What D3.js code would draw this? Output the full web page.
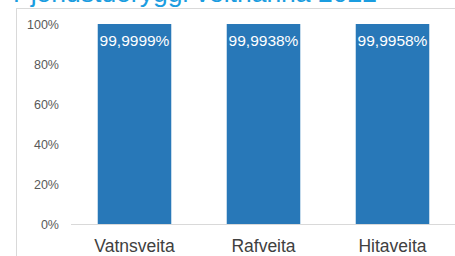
<!DOCTYPE html>
<html>
<head>
<meta charset="utf-8">
<style>
  body { margin: 0; background: #fff; }
  text { font-family: "Liberation Sans", Arial, sans-serif; }
</style>
</head>
<body>
<script src="https://d3js.org/d3.v7.min.js"></script>
<script>
  var categories = ["Vatnsveita", "Rafveita", "Hitaveita"];
  var values = [99.9999, 99.9938, 99.9958];
  var valueLabels = ["99,9999%", "99,9938%", "99,9958%"];
  var yTicks = [0, 20, 40, 60, 80, 100];
  var title = "Þjónustuöryggi veitnanna 2022";

  var width = 455, height = 256;
  var svg = d3.select("body").append("svg")
      .attr("width", width)
      .attr("height", height);

  // title, mostly cut off at the top
  svg.append("text")
      .attr("x", 13)
      .attr("y", 2)
      .attr("fill", "#1b9de0")
      .attr("font-size", 26.5)
      .text(title);

  // chart frame
  svg.append("rect")
      .attr("x", 16.5).attr("y", 8.5)
      .attr("width", 460).attr("height", 270)
      .attr("fill", "none")
      .attr("stroke", "#d9d9d9");

  var x = d3.scaleBand().domain(categories).range([70, 457])
      .paddingInner(0.43).paddingOuter(0.215);
  var y = d3.scaleLinear().domain([0, 100]).range([224, 24]);

  // y axis labels (no line, no ticks)
  svg.append("g")
      .attr("transform", "translate(59,0)")
      .call(d3.axisLeft(y).tickValues(yTicks).tickSize(0).tickPadding(0).tickFormat(d => d + "%"))
      .call(g => g.select(".domain").remove())
      .selectAll("text")
      .attr("fill", "#595959")
      .attr("font-size", 12.5)
      .style("font-family", "Liberation Sans, Arial, sans-serif");

  // bars
  svg.append("g").selectAll("rect")
      .data(values)
      .join("rect")
      .attr("x", (d, i) => x(categories[i]))
      .attr("y", d => y(d))
      .attr("width", x.bandwidth())
      .attr("height", d => y(0) - y(d))
      .attr("fill", "#2878b8");

  // baseline
  svg.append("line")
      .attr("x1", 71).attr("x2", 455)
      .attr("y1", y(0) + 0.5).attr("y2", y(0) + 0.5)
      .attr("stroke", "#d9d9d9");

  // value labels
  svg.append("g").selectAll("text")
      .data(values)
      .join("text")
      .attr("x", (d, i) => x(categories[i]) + x.bandwidth() / 2)
      .attr("y", d => y(d) + 22)
      .attr("text-anchor", "middle")
      .attr("fill", "#ffffff")
      .attr("font-size", 15.5)
      .text((d, i) => valueLabels[i]);

  // category labels
  svg.append("g")
      .attr("transform", "translate(0," + y(0) + ")")
      .call(d3.axisBottom(x).tickSize(0).tickPadding(0))
      .call(g => g.select(".domain").remove())
      .selectAll("text")
      .attr("dy", 0)
      .attr("y", 28)
      .attr("fill", "#404040")
      .attr("font-size", 17.5)
      .style("font-family", "Liberation Sans, Arial, sans-serif");
</script>
</body>
</html>
